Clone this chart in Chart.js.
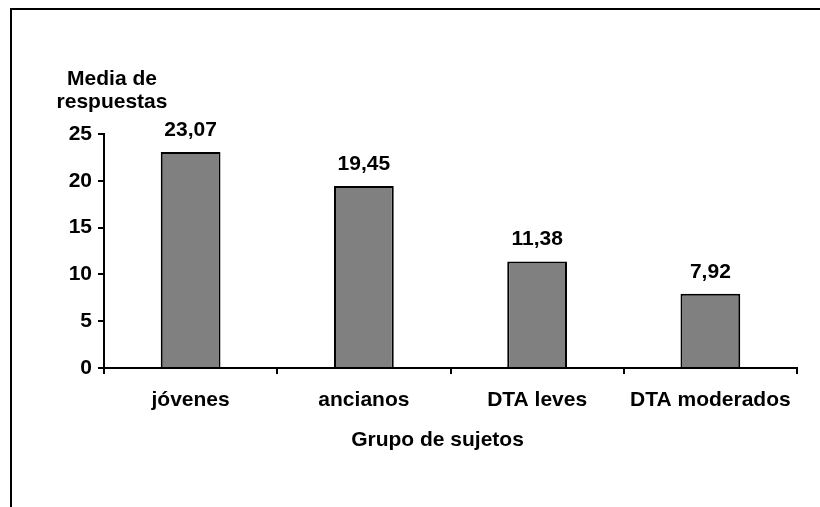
<!DOCTYPE html>
<html>
<head>
<meta charset="utf-8">
<script src="https://cdn.jsdelivr.net/npm/chart.js@4"></script>
<style>
  html, body { margin: 0; padding: 0; background: #fff; }
  #wrap { position: relative; width: 820px; height: 507px; overflow: hidden; }
  #frame { position: absolute; left: 10px; top: 8px; width: 900px; height: 600px; border: 2px solid #000; box-sizing: border-box; }
  canvas { position: absolute; left: 0; top: 0; }
</style>
</head>
<body>
<div id="wrap">
  <div id="frame"></div>
  <canvas id="chart" width="820" height="507"></canvas>
</div>
<script>
// Mean number of responses per group of subjects
const groups = ['jóvenes', 'ancianos', 'DTA leves', 'DTA moderados'];
const meanResponses = [23.07, 19.45, 11.38, 7.92];
const yTickValues = [0, 5, 10, 15, 20, 25];
const yAxisTitle = ['Media de', 'respuestas'];
const xAxisTitle = 'Grupo de sujetos';

const FONT = '"Liberation Sans", Arial, sans-serif';
const SIZE = 21;

const fmt = v => v.toFixed(2).replace('.', ',');

// Value labels above the bars plus the two axis titles
const annotations = {
  id: 'annotations',
  afterDatasetsDraw(chart) {
    const ctx = chart.ctx;
    ctx.save();
    ctx.fillStyle = '#000';
    ctx.font = 'bold ' + SIZE + 'px ' + FONT;
    ctx.textAlign = 'center';
    ctx.textBaseline = 'alphabetic';
    chart.getDatasetMeta(0).data.forEach((bar, i) => {
      ctx.fillText(fmt(meanResponses[i]), bar.x, bar.y - 16);
    });
    const y = chart.scales.y, x = chart.scales.x;
    ctx.fillText(yAxisTitle[0], y.right + 8, y.top - 49);
    ctx.fillText(yAxisTitle[1], y.right + 8, y.top - 26);
    ctx.fillText(xAxisTitle, (x.left + x.right) / 2 - 13, x.top + 78);
    ctx.restore();
  }
};

new Chart(document.getElementById('chart'), {
  type: 'bar',
  data: {
    labels: groups,
    datasets: [{
      data: meanResponses,
      backgroundColor: '#808080',
      borderColor: '#000',
      borderWidth: 2,
      borderSkipped: 'start',
      categoryPercentage: 1,
      barPercentage: 0.345
    }]
  },
  options: {
    responsive: false,
    animation: false,
    layout: { padding: { left: 0, top: 134, right: 23, bottom: 0 } },
    plugins: { legend: { display: false }, tooltip: { enabled: false }, title: { display: false } },
    scales: {
      x: {
        afterFit(s) { s.height = 139; },
        grid: { display: true, drawOnChartArea: false, drawTicks: true, tickLength: 6, color: '#000', lineWidth: 2, offset: true },
        border: { display: true, color: '#000', width: 2 },
        ticks: { color: '#000', font: { family: FONT, size: SIZE, weight: 'bold' }, padding: 14, maxRotation: 0 }
      },
      y: {
        min: 0,
        max: 25,
        afterFit(s) { s.width = 104; },
        afterBuildTicks(s) { s.ticks = yTickValues.map(v => ({ value: v })); },
        grid: { display: true, drawOnChartArea: false, drawTicks: true, tickLength: 6, color: '#000', lineWidth: 2 },
        border: { display: true, color: '#000', width: 2 },
        ticks: { color: '#000', font: { family: FONT, size: SIZE, weight: 'bold' }, padding: 6 }
      }
    }
  },
  plugins: [annotations]
});
</script>
</body>
</html>
